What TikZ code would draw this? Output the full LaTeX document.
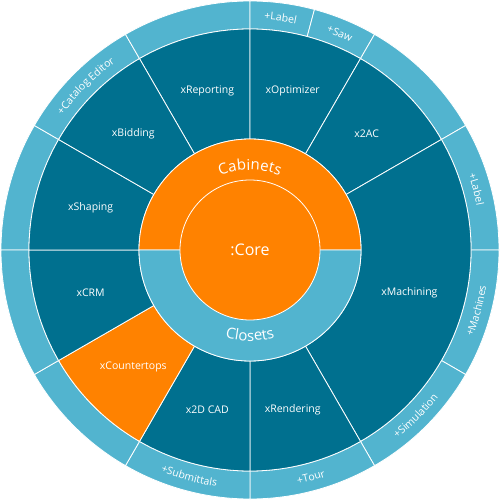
\documentclass[tikz,border=0pt]{standalone}
\usepackage{fontspec}
\setmainfont{Open Sans}
\usetikzlibrary{decorations.text}

\definecolor{darkband}{RGB}{0,112,143}
\definecolor{lightband}{RGB}{82,180,207}
\definecolor{orangeband}{RGB}{255,130,0}

\newcommand{\ringfont}{\color{white}\fontsize{10.5}{12}\selectfont}
\newcommand{\bigfont}{\color{white}\fontsize{15}{18}\selectfont}

% text bent along an arc: start angle, end angle, radius, format, text
\newcommand{\arclabel}[5]{%
  \path[decorate, decoration={text along path, text align=center, text={|#4|#5}}]
    (#1:#3) arc[start angle=#1, end angle=#2, radius=#3];}

\tikzset{
  wedge/.style={fill=#1, draw=white, line width=0.8pt},
  modlabel/.style={text=white, font=\fontsize{10.5}{12}\selectfont},
}

\begin{document}
\begin{tikzpicture}[x=1pt, y=1pt]
  \useasboundingbox (-250,-250) rectangle (250,250);

  \def\rcore{70}
  \def\rin{111}
  \def\rmid{221}
  \def\rout{249}

  % outer ring
  \foreach \a/\b in {180/150,150/120,120/90,90/75,75/60,60/30,30/0,0/-30,-30/-60,-60/-90,-90/-120,-120/-150,-150/-180}
    \filldraw[wedge=lightband] (\a:\rmid) arc[start angle=\a, end angle=\b, radius=\rmid]
      -- (\b:\rout) arc[start angle=\b, end angle=\a, radius=\rout] -- cycle;

  % modules
  \foreach \a/\b/\c/\t [count=\i] in {120/90/darkband/xReporting, 90/60/darkband/xOptimizer,
      60/30/darkband/x2AC, 30/-60/darkband/xMachining, -60/-90/darkband/xRendering,
      -90/-120/darkband/x2D CAD, -120/-150/orangeband/xCountertops, -150/-180/darkband/xCRM,
      180/150/darkband/xShaping, 150/120/darkband/xBidding}
  {
    \filldraw[wedge=\c] (\a:\rin) arc[start angle=\a, end angle=\b, radius=\rin]
      -- (\b:\rmid) arc[start angle=\b, end angle=\a, radius=\rmid] -- cycle;
    \pgfmathsetmacro{\m}{(\a+\b)/2}
    \node[modlabel] (mod\i) at (\m:165) {\t};
  }

  % cabinets / closets
  \filldraw[wedge=orangeband] (0:\rin) arc[start angle=0, end angle=180, radius=\rin] -- cycle;
  \filldraw[wedge=lightband] (180:\rin) arc[start angle=180, end angle=360, radius=\rin] -- cycle;
  \filldraw[wedge=orangeband] (0,0) circle[radius=\rcore];
  \node[text=white, font=\fontsize{16}{19}\selectfont] (core) at (0,0) {:Core};

  \arclabel{180}{0}{80}{\bigfont}{Cabinets}
  \arclabel{180}{360}{91}{\bigfont}{Closets}

  % extras
  \arclabel{150}{120}{231}{\ringfont}{+Catalog Editor}
  \arclabel{90}{75}{231}{\ringfont}{+Label}
  \arclabel{75}{60}{231}{\ringfont}{+Saw}
  \arclabel{30}{0}{231}{\ringfont}{+Label}
  \arclabel{-30}{0}{239}{\ringfont}{+Machines}
  \arclabel{-60}{-30}{239}{\ringfont}{+Simulation}
  \arclabel{-90}{-60}{239}{\ringfont}{+Tour}
  \arclabel{-120}{-90}{239}{\ringfont}{+Submittals}
\end{tikzpicture}
\end{document}
